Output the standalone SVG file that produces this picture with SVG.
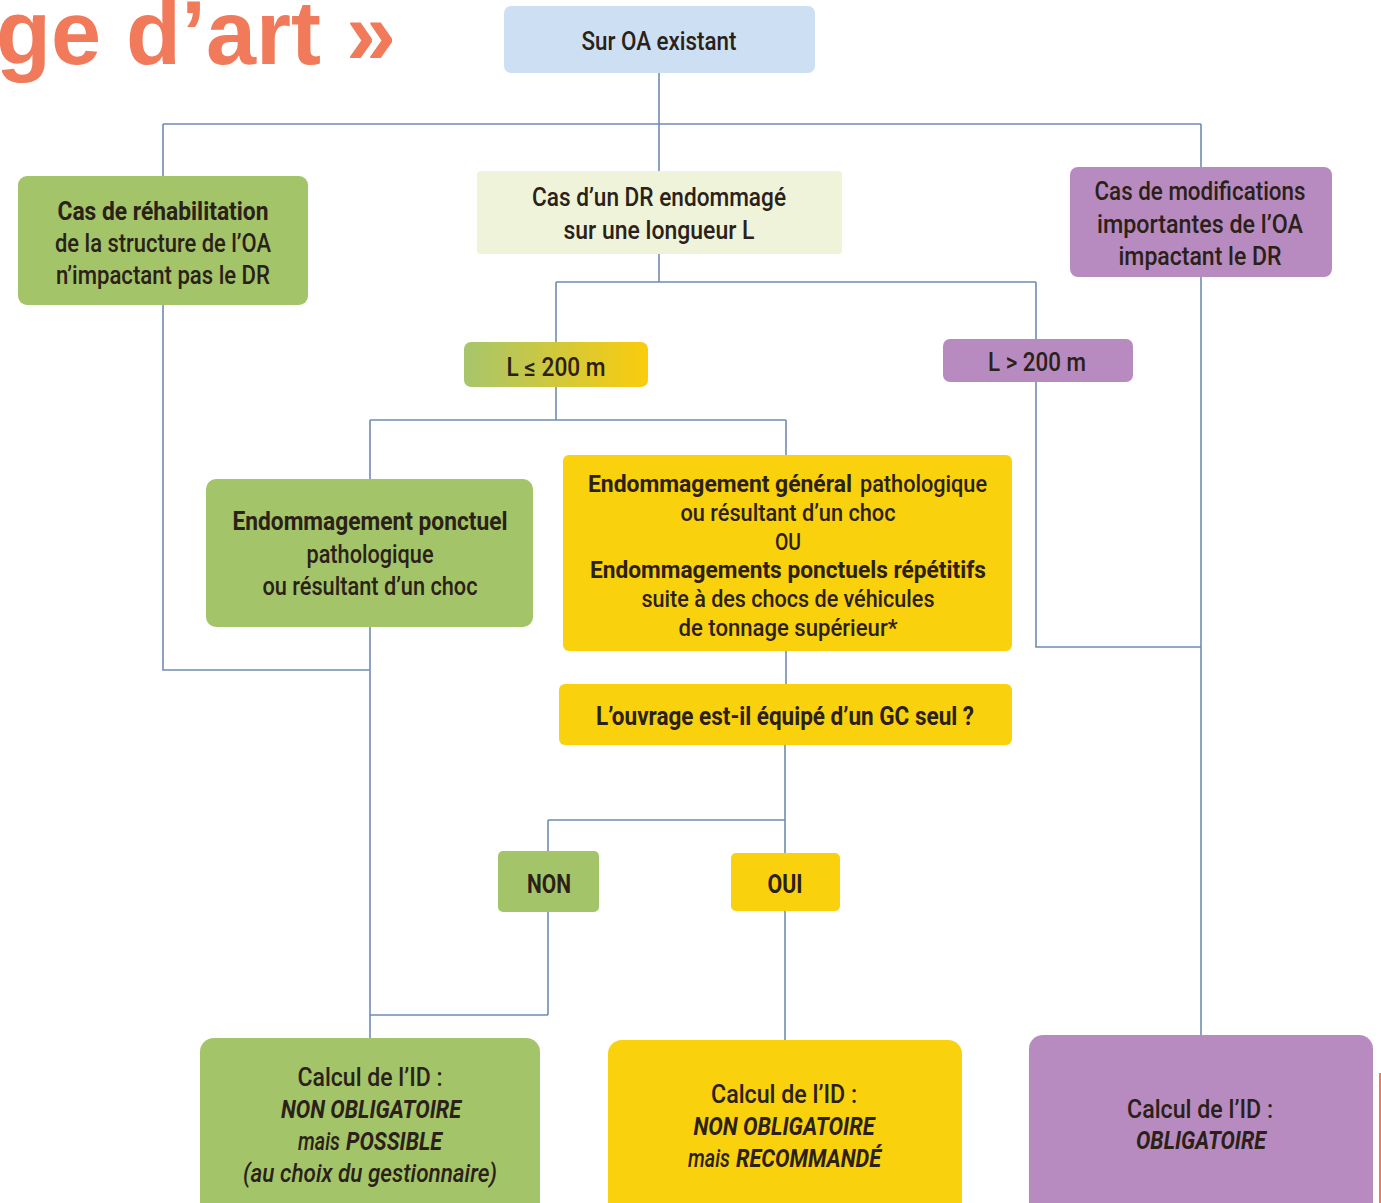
<svg xmlns="http://www.w3.org/2000/svg" width="1381" height="1203" viewBox="0 0 1381 1203">
<style>
.t{font-family:Roboto,"Open Sans","DejaVu Sans",sans-serif;font-size:25px;fill:#2b2118;text-anchor:middle;font-weight:500}
.l{text-anchor:start}
.s{font-size:24px}
.b{font-weight:700}
.i{font-style:italic}
.c{fill:none;stroke:#6f8db2;stroke-width:1.6}
.blue{fill:#cde0f3}
.green{fill:#a3c469}
.pale{fill:#eef3da}
.purple{fill:#b78bc0}
.yellow{fill:#f9d10c}
.title{font-family:"Liberation Sans",Arial,sans-serif;font-weight:700;font-size:90px;fill:#f07a5a}
</style>
<defs>
<linearGradient id="gy" x1="0" y1="0" x2="1" y2="0">
<stop offset="0" stop-color="#a6c56c"/>
<stop offset="1" stop-color="#fbcc0c"/>
</linearGradient>
</defs>
<rect width="1381" height="1203" fill="#ffffff"/>
<text class="title" x="-4" y="64">ge d’art »</text>
<line x1="1380" y1="1073" x2="1380" y2="1203" stroke="#f07a5a" stroke-width="2"/>

<g id="connectors">
<path class="c" d="M659 73V171M163 124H1201M163 124V176M1201 124V167"/>
<path class="c" d="M163 305V670H370"/>
<path class="c" d="M1201 277V1035"/>
<path class="c" d="M659 254V282M556 282H1036M556 282V342M1036 282V339"/>
<path class="c" d="M556 387V420M370 420H786M370 420V479M786 420V455"/>
<path class="c" d="M370 627V1038M370 1015H548M548 912V1015"/>
<path class="c" d="M1036 382V647H1201"/>
<path class="c" d="M786 651V684"/>
<path class="c" d="M785 745V820M548 820H785M548 820V851M785 820V853"/>
<path class="c" d="M785 911V1040"/>
</g>

<g id="n-sur-oa">
<rect class="blue" x="504" y="6" width="311" height="67" rx="7"/>
<text class="t" x="659" y="50" textLength="155" lengthAdjust="spacingAndGlyphs">Sur OA existant</text>
</g>

<g id="n-rehab">
<rect class="green" x="18" y="176" width="290" height="129" rx="9"/>
<text class="t b" x="163" y="220" textLength="211" lengthAdjust="spacingAndGlyphs">Cas de réhabilitation</text>
<text class="t" x="163" y="252" textLength="216" lengthAdjust="spacingAndGlyphs">de la structure de l’OA</text>
<text class="t" x="163" y="284" textLength="214" lengthAdjust="spacingAndGlyphs">n’impactant pas le DR</text>
</g>

<g id="n-dr">
<rect class="pale" x="477" y="171" width="365" height="83" rx="4"/>
<text class="t" x="659" y="206" textLength="254" lengthAdjust="spacingAndGlyphs">Cas d’un DR endommagé</text>
<text class="t" x="659" y="239" textLength="191" lengthAdjust="spacingAndGlyphs">sur une longueur L</text>
</g>

<g id="n-modif">
<rect class="purple" x="1070" y="167" width="262" height="110" rx="8"/>
<text class="t" x="1200" y="200" textLength="211" lengthAdjust="spacingAndGlyphs">Cas de modifications</text>
<text class="t" x="1200" y="233" textLength="206" lengthAdjust="spacingAndGlyphs">importantes de l’OA</text>
<text class="t" x="1200" y="265" textLength="163" lengthAdjust="spacingAndGlyphs">impactant le DR</text>
</g>

<g id="n-le200">
<rect x="464" y="342" width="184" height="45" rx="7" fill="url(#gy)"/>
<text class="t" x="556" y="376" textLength="99" lengthAdjust="spacingAndGlyphs">L ≤ 200 m</text>
</g>

<g id="n-gt200">
<rect class="purple" x="943" y="339" width="190" height="43" rx="7"/>
<text class="t" x="1037" y="371" textLength="98" lengthAdjust="spacingAndGlyphs">L &gt; 200 m</text>
</g>

<g id="n-ponctuel">
<rect class="green" x="206" y="479" width="327" height="148" rx="10"/>
<text class="t b" x="370" y="530" textLength="275" lengthAdjust="spacingAndGlyphs">Endommagement ponctuel</text>
<text class="t" x="370" y="563" textLength="127" lengthAdjust="spacingAndGlyphs">pathologique</text>
<text class="t" x="370" y="595" textLength="215" lengthAdjust="spacingAndGlyphs">ou résultant d’un choc</text>
</g>

<g id="n-general">
<rect class="yellow" x="563" y="455" width="449" height="196" rx="6"/>
<text class="t s b l" x="588" y="492" textLength="264" lengthAdjust="spacingAndGlyphs">Endommagement général</text>
<text class="t s l" x="860" y="492" textLength="127" lengthAdjust="spacingAndGlyphs">pathologique</text>
<text class="t s" x="788" y="521" textLength="215" lengthAdjust="spacingAndGlyphs">ou résultant d’un choc</text>
<text class="t s" x="788" y="550" textLength="26" lengthAdjust="spacingAndGlyphs">OU</text>
<text class="t s b" x="788" y="578" textLength="396" lengthAdjust="spacingAndGlyphs">Endommagements ponctuels répétitifs</text>
<text class="t s" x="788" y="607" textLength="293" lengthAdjust="spacingAndGlyphs">suite à des chocs de véhicules</text>
<text class="t s" x="788" y="636" textLength="219" lengthAdjust="spacingAndGlyphs">de tonnage supérieur*</text>
</g>

<g id="n-question">
<rect class="yellow" x="559" y="684" width="453" height="61" rx="6"/>
<text class="t b" x="785" y="725" textLength="378" lengthAdjust="spacingAndGlyphs">L’ouvrage est-il équipé d’un GC seul ?</text>
</g>

<g id="n-non">
<rect class="green" x="498" y="851" width="101" height="61" rx="5"/>
<text class="t b" x="549" y="893" textLength="44" lengthAdjust="spacingAndGlyphs">NON</text>
</g>

<g id="n-oui">
<rect class="yellow" x="731" y="853" width="109" height="58" rx="5"/>
<text class="t b" x="785" y="893" textLength="35" lengthAdjust="spacingAndGlyphs">OUI</text>
</g>

<g id="n-possible">
<rect class="green" x="200" y="1038" width="340" height="190" rx="14"/>
<text class="t" x="370" y="1086" textLength="145" lengthAdjust="spacingAndGlyphs">Calcul de l’ID :</text>
<text class="t b i" x="371" y="1118" textLength="180" lengthAdjust="spacingAndGlyphs">NON OBLIGATOIRE</text>
<text class="t i l" x="298" y="1150" textLength="42" lengthAdjust="spacingAndGlyphs">mais</text>
<text class="t i b l" x="346" y="1150" textLength="96" lengthAdjust="spacingAndGlyphs">POSSIBLE</text>
<text class="t i" x="370" y="1182" textLength="254" lengthAdjust="spacingAndGlyphs">(au choix du gestionnaire)</text>
</g>

<g id="n-recommande">
<rect class="yellow" x="608" y="1040" width="354" height="190" rx="14"/>
<text class="t" x="784" y="1103" textLength="146" lengthAdjust="spacingAndGlyphs">Calcul de l’ID :</text>
<text class="t b i" x="784" y="1135" textLength="181" lengthAdjust="spacingAndGlyphs">NON OBLIGATOIRE</text>
<text class="t i l" x="688" y="1167" textLength="42" lengthAdjust="spacingAndGlyphs">mais</text>
<text class="t i b l" x="736" y="1167" textLength="145" lengthAdjust="spacingAndGlyphs">RECOMMANDÉ</text>
</g>

<g id="n-obligatoire">
<rect class="purple" x="1029" y="1035" width="344" height="195" rx="14"/>
<text class="t" x="1200" y="1118" textLength="146" lengthAdjust="spacingAndGlyphs">Calcul de l’ID :</text>
<text class="t b i" x="1201" y="1149" textLength="130" lengthAdjust="spacingAndGlyphs">OBLIGATOIRE</text>
</g>
</svg>
